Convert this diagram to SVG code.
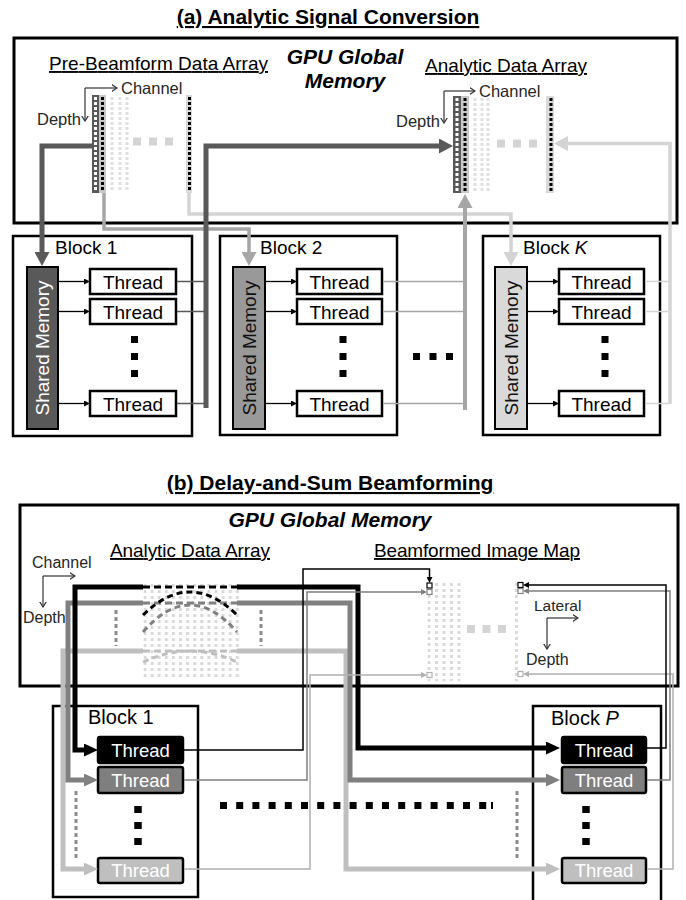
<svg xmlns="http://www.w3.org/2000/svg" width="686" height="900" viewBox="0 0 686 900">
<defs>
<style>
text{font-family:"Liberation Sans",Arial,sans-serif;fill:#000}
.ttl{font-size:21px;font-weight:bold;text-anchor:middle;text-decoration:underline}
.gpu{font-size:21px;font-weight:bold;font-style:italic;text-anchor:middle}
.hdr{font-size:19px;text-decoration:underline}
.ax{font-size:16.5px;fill:#262626}
.blk{font-size:19px}
.blkb{font-size:20px}
.thr{font-size:19px;text-anchor:middle}
.thrb{font-size:18.5px;text-anchor:middle;fill:#fff}
.sm{font-size:19px;text-anchor:middle}
.frame{fill:#fff;stroke:#000;stroke-width:3}
.bbox{fill:#fff;stroke:#000;stroke-width:2.5}
.tbox{fill:#fff;stroke:#000;stroke-width:2.5}
.axl{fill:none;stroke:#333;stroke-width:1.2}
.dW{stroke:#fff;stroke-width:3;stroke-dasharray:3 2}
.dK{stroke:#000;stroke-width:3;stroke-dasharray:3 2}
.dF{stroke:#e0e0e0;stroke-width:3;stroke-dasharray:3 2}
.big{stroke:#d4d4d4;stroke-width:8;stroke-dasharray:8 8}
.ell{stroke:#000;stroke-width:7;stroke-dasharray:7 10}
.vdot{stroke:#8c8c8c;stroke-width:3;stroke-dasharray:4 3}
.c{fill:none}
.thin{fill:none;stroke-width:1.5}
.pix{fill:#fff;stroke-width:1.2}
</style>
<marker id="aDk" markerUnits="userSpaceOnUse" viewBox="0 0 14 15" markerWidth="14" markerHeight="15" refX="0" refY="7.5" orient="auto"><path d="M0,0L14,7.5L0,15z" fill="#595959"/></marker>
<marker id="aMd" markerUnits="userSpaceOnUse" viewBox="0 0 14 15" markerWidth="14" markerHeight="15" refX="0" refY="7.5" orient="auto"><path d="M0,0L14,7.5L0,15z" fill="#a6a6a6"/></marker>
<marker id="aLt" markerUnits="userSpaceOnUse" viewBox="0 0 14 15" markerWidth="14" markerHeight="15" refX="0" refY="7.5" orient="auto"><path d="M0,0L14,7.5L0,15z" fill="#d4d4d4"/></marker>
<marker id="aSm" markerUnits="userSpaceOnUse" viewBox="0 0 6 6" markerWidth="6" markerHeight="6" refX="0" refY="3" orient="auto"><path d="M0,0L6,3L0,6z" fill="#000"/></marker>
<marker id="bK" markerUnits="userSpaceOnUse" viewBox="0 0 14 13" markerWidth="14" markerHeight="13" refX="0" refY="6.5" orient="auto"><path d="M0,0L14,6.5L0,13z" fill="#000"/></marker>
<marker id="bG" markerUnits="userSpaceOnUse" viewBox="0 0 14 13" markerWidth="14" markerHeight="13" refX="0" refY="6.5" orient="auto"><path d="M0,0L14,6.5L0,13z" fill="#808080"/></marker>
<marker id="bL" markerUnits="userSpaceOnUse" viewBox="0 0 14 13" markerWidth="14" markerHeight="13" refX="0" refY="6.5" orient="auto"><path d="M0,0L14,6.5L0,13z" fill="#bfbfbf"/></marker>
<marker id="tK" markerUnits="userSpaceOnUse" viewBox="0 0 6 6" markerWidth="6" markerHeight="6" refX="0" refY="3" orient="auto"><path d="M0,0L6,3L0,6z" fill="#000"/></marker>
<marker id="tG" markerUnits="userSpaceOnUse" viewBox="0 0 6 6" markerWidth="6" markerHeight="6" refX="0" refY="3" orient="auto"><path d="M0,0L6,3L0,6z" fill="#808080"/></marker>
<marker id="tL" markerUnits="userSpaceOnUse" viewBox="0 0 6 6" markerWidth="6" markerHeight="6" refX="0" refY="3" orient="auto"><path d="M0,0L6,3L0,6z" fill="#b0b0b0"/></marker>
<marker id="ax" markerUnits="userSpaceOnUse" viewBox="0 0 6 8" markerWidth="6" markerHeight="8" refX="5.5" refY="4" orient="auto"><path d="M0,0.5L5.5,4L0,7.5" fill="none" stroke="#333" stroke-width="1.2"/></marker>
<pattern id="gridA" x="143.5" y="584" width="7.1" height="6" patternUnits="userSpaceOnUse"><rect width="3" height="3" fill="#d9d9d9"/></pattern>
<pattern id="gridB" x="427.5" y="583" width="7.5" height="6" patternUnits="userSpaceOnUse"><rect width="3" height="3" fill="#d9d9d9"/></pattern>
<pattern id="gridC" x="515" y="583" width="7.5" height="6" patternUnits="userSpaceOnUse"><rect width="3" height="3" fill="#d9d9d9"/></pattern>
</defs>
<rect width="686" height="900" fill="#fff"/>

<!-- ===== Part (a) ===== -->
<text class="ttl" x="328" y="24">(a) Analytic Signal Conversion</text>
<g id="a-global-memory">
<rect class="frame" x="14" y="38" width="663" height="185"/>
<text class="gpu" x="345" y="64">GPU Global</text>
<text class="gpu" x="345" y="88">Memory</text>
</g>

<g id="a-prebeamform-array">
<text class="hdr" x="49" y="70" textLength="219">Pre-Beamform Data Array</text>
<path class="axl" d="M85,88H117" marker-end="url(#ax)"/>
<path class="axl" d="M85,88V121" marker-end="url(#ax)"/>
<text class="ax" x="121" y="94">Channel</text>
<text class="ax" x="37" y="125">Depth</text>
<rect x="92" y="95" width="7" height="98" fill="#595959"/>
<line class="dW" x1="95.5" y1="97" x2="95.5" y2="192"/>
<rect x="99" y="95" width="7" height="98" fill="#c8c8c8"/>
<line class="dK" x1="102.5" y1="97" x2="102.5" y2="192"/>
<line class="dF" x1="112" y1="97" x2="112" y2="192"/>
<line class="dF" x1="120" y1="97" x2="120" y2="192"/>
<line class="dF" x1="127" y1="97" x2="127" y2="192"/>
<line class="big" x1="133" y1="141.5" x2="175" y2="141.5"/>
<rect x="186" y="95" width="6" height="98" fill="#d9d9d9"/>
<line class="dK" x1="189.5" y1="97" x2="189.5" y2="192"/>
</g>

<g id="a-analytic-array">
<text class="hdr" x="425" y="72" textLength="162">Analytic Data Array</text>
<path class="axl" d="M444,91H475" marker-end="url(#ax)"/>
<path class="axl" d="M444,91V123" marker-end="url(#ax)"/>
<text class="ax" x="479" y="97">Channel</text>
<text class="ax" x="396" y="127">Depth</text>
<rect x="453" y="96" width="8" height="97" fill="#595959"/>
<line class="dW" x1="457" y1="98" x2="457" y2="193"/>
<rect x="461" y="96" width="8" height="97" fill="#c8c8c8"/>
<line class="dK" x1="465" y1="98" x2="465" y2="193"/>
<line class="dF" x1="475" y1="98" x2="475" y2="193"/>
<line class="dF" x1="482" y1="98" x2="482" y2="193"/>
<line class="dF" x1="488" y1="98" x2="488" y2="193"/>
<line class="big" x1="497" y1="143.5" x2="539" y2="143.5"/>
<rect x="546" y="96" width="8" height="97" fill="#d9d9d9"/>
<line class="dK" x1="551" y1="98" x2="551" y2="193"/>
</g>

<g id="a-block1">
<rect class="bbox" x="13" y="236" width="179" height="200"/>
<text class="blk" x="55" y="254">Block 1</text>
<rect x="27" y="267" width="31" height="162" fill="#595959" stroke="#000" stroke-width="2"/>
<text class="sm" transform="translate(42.5,348) rotate(-90)" y="6.5" textLength="135" style="fill:#fff">Shared Memory</text>
<rect class="tbox" x="90" y="269" width="86" height="25"/><text class="thr" x="133" y="288.5">Thread</text>
<rect class="tbox" x="90" y="299" width="86" height="25"/><text class="thr" x="133" y="318.5">Thread</text>
<rect class="tbox" x="90" y="391" width="86" height="25"/><text class="thr" x="133" y="410.5">Thread</text>
<line class="ell" x1="134.5" y1="336" x2="134.5" y2="377"/>
</g>

<g id="a-block2">
<rect class="bbox" x="220" y="236" width="177" height="199"/>
<text class="blk" x="260" y="254">Block 2</text>
<rect x="233" y="267" width="32" height="162" fill="#999" stroke="#000" stroke-width="2"/>
<text class="sm" transform="translate(249,348) rotate(-90)" y="6.5" textLength="135" style="fill:#111">Shared Memory</text>
<rect class="tbox" x="297" y="269" width="85" height="25"/><text class="thr" x="339.5" y="288.5">Thread</text>
<rect class="tbox" x="297" y="299" width="85" height="25"/><text class="thr" x="339.5" y="318.5">Thread</text>
<rect class="tbox" x="297" y="391" width="85" height="25"/><text class="thr" x="339.5" y="410.5">Thread</text>
<line class="ell" x1="343" y1="336" x2="343" y2="377"/>
</g>

<g id="a-ellipsis">
<line stroke="#000" stroke-width="7" stroke-dasharray="7 9.5" x1="413" y1="356.5" x2="455" y2="356.5"/>
</g>

<g id="a-blockK">
<rect class="bbox" x="483" y="236" width="177" height="199"/>
<text class="blk" x="523" y="254">Block <tspan font-style="italic">K</tspan></text>
<rect x="495" y="267" width="32" height="162" fill="#d9d9d9" stroke="#000" stroke-width="2"/>
<text class="sm" transform="translate(511,348) rotate(-90)" y="6.5" textLength="135" style="fill:#111">Shared Memory</text>
<rect class="tbox" x="559" y="269" width="85" height="25"/><text class="thr" x="601.5" y="288.5">Thread</text>
<rect class="tbox" x="559" y="299" width="85" height="25"/><text class="thr" x="601.5" y="318.5">Thread</text>
<rect class="tbox" x="559" y="391" width="85" height="25"/><text class="thr" x="601.5" y="410.5">Thread</text>
<line class="ell" x1="605" y1="336" x2="605" y2="377"/>
</g>

<g id="a-connectors">
<!-- shared memory to threads -->
<path class="c" stroke="#000" stroke-width="1.3" d="M58,281.5H84" marker-end="url(#aSm)"/>
<path class="c" stroke="#000" stroke-width="1.3" d="M58,311.5H84" marker-end="url(#aSm)"/>
<path class="c" stroke="#000" stroke-width="1.3" d="M58,403.5H84" marker-end="url(#aSm)"/>
<path class="c" stroke="#000" stroke-width="1.3" d="M265,281.5H291" marker-end="url(#aSm)"/>
<path class="c" stroke="#000" stroke-width="1.3" d="M265,311.5H291" marker-end="url(#aSm)"/>
<path class="c" stroke="#000" stroke-width="1.3" d="M265,403.5H291" marker-end="url(#aSm)"/>
<path class="c" stroke="#000" stroke-width="1.3" d="M527,281.5H553" marker-end="url(#aSm)"/>
<path class="c" stroke="#000" stroke-width="1.3" d="M527,311.5H553" marker-end="url(#aSm)"/>
<path class="c" stroke="#000" stroke-width="1.3" d="M527,403.5H553" marker-end="url(#aSm)"/>
<!-- inputs from pre-beamform array -->
<path class="c" stroke="#d4d4d4" stroke-width="3.5" d="M189,193V214H511V252" marker-end="url(#aLt)"/>
<path class="c" stroke="#a6a6a6" stroke-width="3.5" d="M104,193V229H249V252" marker-end="url(#aMd)"/>
<path class="c" stroke="#595959" stroke-width="5" d="M92,146H42V252" marker-end="url(#aDk)"/>
<!-- outputs to analytic array -->
<path class="thin" stroke="#595959" d="M177,281.5H206M177,311.5H206M177,403.5H206"/>
<path class="c" stroke="#595959" stroke-width="5" d="M206,408V146H439" marker-end="url(#aDk)"/>
<path class="thin" stroke="#a6a6a6" d="M383,281.5H465M383,311.5H465M383,403.5H465"/>
<path class="c" stroke="#a6a6a6" stroke-width="4" d="M465,410V208" marker-end="url(#aMd)"/>
<path class="thin" stroke="#d4d4d4" d="M645,281.5H670M645,311.5H670M645,403.5H670"/>
<path class="c" stroke="#d4d4d4" stroke-width="3.5" d="M670,404V143.5H568" marker-end="url(#aLt)"/>
</g>

<!-- ===== Part (b) ===== -->
<text class="ttl" x="330" y="490">(b) Delay-and-Sum Beamforming</text>
<g id="b-global-memory">
<rect class="frame" x="20" y="505" width="658" height="181"/>
<text class="gpu" x="330" y="527">GPU Global Memory</text>
</g>

<g id="b-analytic-array">
<text class="hdr" x="110" y="557" textLength="160">Analytic Data Array</text>
<path class="axl" d="M43,576H75" marker-end="url(#ax)"/>
<path class="axl" d="M43,576V607" marker-end="url(#ax)"/>
<text class="ax" x="32" y="568" style="font-size:16px">Channel</text>
<text class="ax" x="23" y="623" style="font-size:16px">Depth</text>
<rect x="143.5" y="584" width="97" height="95" fill="url(#gridA)"/>
<line class="vdot" x1="116" y1="610" x2="116" y2="646"/>
<line class="vdot" x1="261" y1="610" x2="261" y2="646"/>
</g>

<g id="b-image-map">
<text class="hdr" x="374" y="557" textLength="206">Beamformed Image Map</text>
<rect x="427.5" y="583" width="34" height="98" fill="url(#gridB)"/>
<rect x="515" y="583" width="3" height="98" fill="url(#gridC)"/>
<line class="big" x1="467" y1="629" x2="508" y2="629" style="stroke-dasharray:8 7.5"/>
<path class="axl" d="M547,618H578" marker-end="url(#ax)"/>
<path class="axl" d="M547,618V649" marker-end="url(#ax)"/>
<text class="ax" x="534" y="611" style="font-size:15.5px">Lateral</text>
<text class="ax" x="526" y="665" style="font-size:16px">Depth</text>
</g>

<g id="b-block1">
<rect class="bbox" x="53" y="706" width="145" height="191"/>
<text class="blkb" x="88" y="724">Block 1</text>
<rect x="98" y="737" width="85" height="26" rx="2" fill="#000" stroke="#000" stroke-width="2.5"/><text class="thrb" x="140.5" y="757">Thread</text>
<rect x="98" y="767" width="85" height="26" rx="2" fill="#7f7f7f" stroke="#000" stroke-width="2.5"/><text class="thrb" x="140.5" y="787">Thread</text>
<rect x="98" y="858" width="85" height="25" rx="2" fill="#bfbfbf" stroke="#000" stroke-width="2.5"/><text class="thrb" x="140.5" y="877">Thread</text>
<line class="ell" x1="138" y1="806" x2="138" y2="846" style="stroke-width:7.5;stroke-dasharray:7 9"/>
<line class="vdot" x1="76" y1="791" x2="76" y2="858"/>
</g>

<g id="b-ellipsis">
<line stroke="#000" stroke-width="7" stroke-dasharray="7 9.2" x1="220" y1="805.5" x2="488" y2="805.5"/>
<line stroke="#000" stroke-width="2" x1="492" y1="802" x2="492" y2="809"/>
<line class="vdot" x1="517" y1="791" x2="517" y2="858"/>
</g>

<g id="b-blockP">
<rect class="bbox" x="533" y="706" width="128" height="200"/>
<text class="blkb" x="551" y="725">Block <tspan font-style="italic">P</tspan></text>
<rect x="562" y="737" width="84" height="26" rx="2" fill="#000" stroke="#000" stroke-width="2.5"/><text class="thrb" x="604" y="757">Thread</text>
<rect x="562" y="767" width="84" height="26" rx="2" fill="#7f7f7f" stroke="#000" stroke-width="2.5"/><text class="thrb" x="604" y="787">Thread</text>
<rect x="562" y="858" width="84" height="25" rx="2" fill="#bfbfbf" stroke="#000" stroke-width="2.5"/><text class="thrb" x="604" y="877">Thread</text>
<line class="ell" x1="586" y1="806" x2="586" y2="846" style="stroke-width:7.5;stroke-dasharray:7 9"/>
</g>

<g id="b-connectors">
<!-- light gray -->
<path class="c" stroke="#bfbfbf" stroke-width="5" d="M143,651H63V869H84" marker-end="url(#bL)"/>
<path class="c" stroke="#bfbfbf" stroke-width="5" d="M237,651H346V869H546" marker-end="url(#bL)"/>
<path class="c" stroke="#bfbfbf" stroke-width="3" stroke-dasharray="7 4" d="M143,651H237"/>
<path class="c" stroke="#bfbfbf" stroke-width="3" stroke-dasharray="6 4" d="M143,662Q190,640 237,662"/>
<!-- gray -->
<path class="c" stroke="#808080" stroke-width="5" d="M143,603H68V780H84" marker-end="url(#bG)"/>
<path class="c" stroke="#808080" stroke-width="5" d="M237,603H350V780H546" marker-end="url(#bG)"/>
<path class="c" stroke="#808080" stroke-width="3" stroke-dasharray="7 4" d="M143,603H237"/>
<path class="c" stroke="#808080" stroke-width="3" stroke-dasharray="6 4" d="M143,632Q190,578 237,632"/>
<!-- black -->
<path class="c" stroke="#000" stroke-width="5" d="M143,587H75V750H84" marker-end="url(#bK)"/>
<path class="c" stroke="#000" stroke-width="5" d="M237,587H358V748H546" marker-end="url(#bK)"/>
<path class="c" stroke="#000" stroke-width="3" stroke-dasharray="7 4" d="M143,587H237"/>
<path class="c" stroke="#000" stroke-width="3" stroke-dasharray="6 4" d="M143,615Q190,569 237,615"/>
<!-- thread outputs to image map -->
<path class="thin" stroke="#b0b0b0" d="M184,869H310V675H421" marker-end="url(#tL)"/>
<path class="thin" stroke="#808080" d="M184,780H307V592H421" marker-end="url(#tG)"/>
<path class="thin" stroke="#000" d="M184,750H303V569H429.5V577" marker-end="url(#tK)"/>
<path class="thin" stroke="#b0b0b0" d="M647,869H673V674H529" marker-end="url(#tL)"/>
<path class="thin" stroke="#808080" d="M647,780H670V591H529" marker-end="url(#tG)"/>
<path class="thin" stroke="#000" d="M647,748H666V585H529" marker-end="url(#tK)"/>
</g>

<g id="b-pixels">
<rect class="pix" x="427" y="583" width="5" height="5" stroke="#000"/>
<rect class="pix" x="427" y="589.5" width="5" height="5" stroke="#808080"/>
<rect class="pix" x="427" y="672.5" width="5" height="5" stroke="#b0b0b0"/>
<rect class="pix" x="518" y="582.5" width="5" height="5" stroke="#000"/>
<rect class="pix" x="518" y="588.5" width="5" height="5" stroke="#808080"/>
<rect class="pix" x="518" y="671.5" width="5" height="5" stroke="#b0b0b0"/>
</g>
</svg>
